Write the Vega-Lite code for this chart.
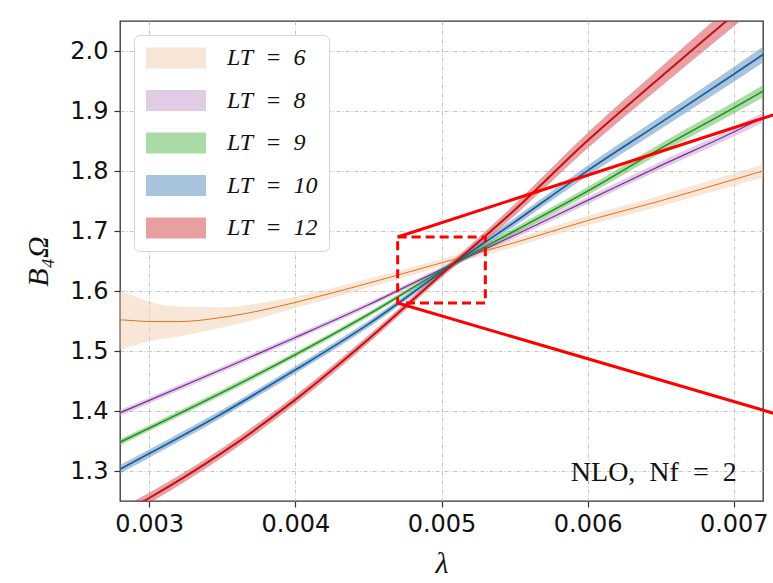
{
  "$schema": "https://vega.github.io/schema/vega-lite/v6.json",
  "width": 643,
  "height": 480,
  "autosize": {"type": "none"},
  "padding": {"left": 120, "top": 21, "right": 10, "bottom": 82},
  "background": "white",
  "config": {
    "view": {"stroke": "#333333", "strokeWidth": 1.3},
    "axis": {
      "labelFont": "DejaVu Sans",
      "labelFontSize": 24,
      "labelColor": "#111111",
      "labelFlush": false,
      "labelOverlap": false,
      "tickColor": "#333333",
      "tickWidth": 1.2,
      "tickSize": 6,
      "domain": false,
      "grid": true,
      "gridColor": "#c4c4c4",
      "gridDash": [4, 2, 1, 2],
      "gridWidth": 1,
      "titleFont": "Liberation Serif",
      "titleFontStyle": "italic",
      "titleFontWeight": "normal",
      "titleFontSize": 30,
      "titleColor": "#111111"
    }
  },
  "datasets": {
    "curves": [
      {"lt": "6", "x": 0.0028, "y": 1.552, "lo": 1.502, "hi": 1.600},
      {"lt": "6", "x": 0.0029, "y": 1.5505, "lo": 1.5095, "hi": 1.5915},
      {"lt": "6", "x": 0.003, "y": 1.549, "lo": 1.516, "hi": 1.582},
      {"lt": "6", "x": 0.0032, "y": 1.549, "lo": 1.524, "hi": 1.574},
      {"lt": "6", "x": 0.0035, "y": 1.556, "lo": 1.539, "hi": 1.573},
      {"lt": "6", "x": 0.0038, "y": 1.5695, "lo": 1.5575, "hi": 1.5815},
      {"lt": "6", "x": 0.004, "y": 1.581, "lo": 1.5715, "hi": 1.5905},
      {"lt": "6", "x": 0.0045, "y": 1.613, "lo": 1.6055, "hi": 1.6205},
      {"lt": "6", "x": 0.005, "y": 1.647, "lo": 1.6405, "hi": 1.6535},
      {"lt": "6", "x": 0.0055, "y": 1.6805, "lo": 1.6735, "hi": 1.6875},
      {"lt": "6", "x": 0.006, "y": 1.7175, "lo": 1.7095, "hi": 1.7255},
      {"lt": "6", "x": 0.0065, "y": 1.7503, "lo": 1.7413, "hi": 1.7593},
      {"lt": "6", "x": 0.007, "y": 1.7858, "lo": 1.7753, "hi": 1.7963},
      {"lt": "6", "x": 0.0072, "y": 1.800, "lo": 1.789, "hi": 1.811},

      {"lt": "8", "x": 0.0028, "y": 1.397, "lo": 1.392, "hi": 1.402},
      {"lt": "8", "x": 0.003, "y": 1.4176, "lo": 1.4127, "hi": 1.4225},
      {"lt": "8", "x": 0.0035, "y": 1.4695, "lo": 1.4648, "hi": 1.4742},
      {"lt": "8", "x": 0.004, "y": 1.5225, "lo": 1.518, "hi": 1.527},
      {"lt": "8", "x": 0.0045, "y": 1.577, "lo": 1.5728, "hi": 1.5812},
      {"lt": "8", "x": 0.005, "y": 1.636, "lo": 1.632, "hi": 1.640},
      {"lt": "8", "x": 0.0055, "y": 1.693, "lo": 1.6881, "hi": 1.6979},
      {"lt": "8", "x": 0.006, "y": 1.751, "lo": 1.7452, "hi": 1.7568},
      {"lt": "8", "x": 0.0065, "y": 1.809, "lo": 1.8023, "hi": 1.8157},
      {"lt": "8", "x": 0.007, "y": 1.865, "lo": 1.8574, "hi": 1.8726},
      {"lt": "8", "x": 0.0072, "y": 1.889, "lo": 1.881, "hi": 1.897},

      {"lt": "9", "x": 0.0028, "y": 1.348, "lo": 1.343, "hi": 1.353},
      {"lt": "9", "x": 0.003, "y": 1.3714, "lo": 1.3665, "hi": 1.3763},
      {"lt": "9", "x": 0.0035, "y": 1.431, "lo": 1.4263, "hi": 1.4357},
      {"lt": "9", "x": 0.004, "y": 1.494, "lo": 1.4895, "hi": 1.4985},
      {"lt": "9", "x": 0.0045, "y": 1.561, "lo": 1.5568, "hi": 1.5652},
      {"lt": "9", "x": 0.005, "y": 1.634, "lo": 1.630, "hi": 1.638},
      {"lt": "9", "x": 0.0055, "y": 1.700, "lo": 1.6946, "hi": 1.7054},
      {"lt": "9", "x": 0.006, "y": 1.7665, "lo": 1.7598, "hi": 1.7732},
      {"lt": "9", "x": 0.0065, "y": 1.8377, "lo": 1.8296, "hi": 1.8458},
      {"lt": "9", "x": 0.007, "y": 1.9053, "lo": 1.8958, "hi": 1.9148},
      {"lt": "9", "x": 0.0072, "y": 1.933, "lo": 1.923, "hi": 1.943},

      {"lt": "10", "x": 0.0028, "y": 1.303, "lo": 1.296, "hi": 1.310},
      {"lt": "10", "x": 0.003, "y": 1.329, "lo": 1.3222, "hi": 1.3358},
      {"lt": "10", "x": 0.0035, "y": 1.396, "lo": 1.3896, "hi": 1.4024},
      {"lt": "10", "x": 0.004, "y": 1.4686, "lo": 1.4627, "hi": 1.4745},
      {"lt": "10", "x": 0.0045, "y": 1.5448, "lo": 1.5393, "hi": 1.5503},
      {"lt": "10", "x": 0.005, "y": 1.6316, "lo": 1.6266, "hi": 1.6366},
      {"lt": "10", "x": 0.0055, "y": 1.7148, "lo": 1.708, "hi": 1.7216},
      {"lt": "10", "x": 0.006, "y": 1.8006, "lo": 1.792, "hi": 1.8092},
      {"lt": "10", "x": 0.0065, "y": 1.8806, "lo": 1.8701, "hi": 1.8911},
      {"lt": "10", "x": 0.007, "y": 1.9611, "lo": 1.9488, "hi": 1.9734},
      {"lt": "10", "x": 0.0072, "y": 1.994, "lo": 1.981, "hi": 2.007},

      {"lt": "12", "x": 0.0028, "y": 1.228, "lo": 1.219, "hi": 1.237},
      {"lt": "12", "x": 0.003, "y": 1.255, "lo": 1.2464, "hi": 1.2636},
      {"lt": "12", "x": 0.0035, "y": 1.3305, "lo": 1.3226, "hi": 1.3384},
      {"lt": "12", "x": 0.004, "y": 1.419, "lo": 1.4117, "hi": 1.4263},
      {"lt": "12", "x": 0.0045, "y": 1.5196, "lo": 1.513, "hi": 1.5262},
      {"lt": "12", "x": 0.005, "y": 1.628, "lo": 1.622, "hi": 1.634},
      {"lt": "12", "x": 0.0055, "y": 1.735, "lo": 1.7256, "hi": 1.7444},
      {"lt": "12", "x": 0.006, "y": 1.8508, "lo": 1.838, "hi": 1.8636},
      {"lt": "12", "x": 0.0065, "y": 1.9566, "lo": 1.9404, "hi": 1.9728},
      {"lt": "12", "x": 0.007, "y": 2.0604, "lo": 2.0408, "hi": 2.08},
      {"lt": "12", "x": 0.0072, "y": 2.102, "lo": 2.081, "hi": 2.123}
    ],
    "box": [{"x": 0.0047, "x2": 0.0053, "y": 1.58, "y2": 1.69}],
    "connectors": [
      {"x": 0.0047, "y": 1.69, "x2": 0.0075, "y2": 1.9117},
      {"x": 0.0047, "y": 1.58, "x2": 0.0075, "y2": 1.38}
    ],
    "note": [{"x": 0.00702, "y": 1.297, "label": "NLO,\u2002Nf\u2002=\u20022"}]
  },
  "layer": [
    {
      "data": {"name": "curves"},
      "mark": {"type": "area", "clip": true, "opacity": 0.5, "interpolate": "monotone"},
      "encoding": {
        "x": {
          "field": "x", "type": "quantitative",
          "scale": {"domain": [0.0028, 0.0072], "nice": false, "zero": false},
          "axis": {"values": [0.003, 0.004, 0.005, 0.006, 0.007], "format": ".3f", "title": "λ", "labelPadding": 5, "titlePadding": 12}
        },
        "y": {
          "field": "lo", "type": "quantitative",
          "scale": {"domain": [1.25, 2.05], "nice": false, "zero": false},
          "axis": {"values": [1.3, 1.4, 1.5, 1.6, 1.7, 1.8, 1.9, 2.0], "format": ".1f", "title": "B₄Ω", "labelPadding": 6, "titlePadding": 16}
        },
        "y2": {"field": "hi"},
        "fill": {
          "field": "lt", "type": "nominal",
          "scale": {"domain": ["6", "8", "9", "10", "12"], "range": ["#f1cdad", "#c59bcd", "#59b94d", "#518bbb", "#d14145"]},
          "legend": {
            "title": null,
            "orient": "none",
            "legendX": 14,
            "legendY": 14,
            "fillColor": "white",
            "strokeColor": "#d4d4d4",
            "cornerRadius": 6,
            "padding": 11,
            "symbolType": "M-2.727,-0.955H2.727V0.955H-2.727Z",
            "symbolSize": 484,
            "symbolOffset": 19,
            "symbolOpacity": 0.5,
            "symbolStrokeWidth": 0,
            "symbolStrokeColor": "transparent",
            "labelFont": "Liberation Serif",
            "labelFontStyle": "italic",
            "labelFontSize": 24,
            "labelColor": "#111111",
            "labelOffset": 39,
            "rowPadding": 18.5,
            "labelExpr": "'LT\u2002=\u2002' + datum.label + '\u2003'",
            "encode": {
              "symbols": {
                "enter": {"strokeOpacity": {"value": 0}, "strokeWidth": {"value": 0}},
                "update": {"stroke": {"value": "transparent"}, "strokeOpacity": {"value": 0}, "strokeWidth": {"value": 0}}
              }
            }
          }
        }
      }
    },
    {
      "data": {"name": "curves"},
      "mark": {"type": "line", "clip": true, "interpolate": "monotone"},
      "encoding": {
        "x": {"field": "x", "type": "quantitative", "scale": {"domain": [0.0028, 0.0072], "nice": false, "zero": false}},
        "y": {"field": "y", "type": "quantitative", "scale": {"domain": [1.25, 2.05], "nice": false, "zero": false}},
        "stroke": {
          "field": "lt", "type": "nominal",
          "scale": {"domain": ["6", "8", "9", "10", "12"], "range": ["#e8711a", "#7b2d9e", "#1e8c1e", "#1c5b9c", "#c40f14"]},
          "legend": null
        },
        "strokeWidth": {
          "field": "lt", "type": "ordinal",
          "scale": {"domain": ["6", "8", "9", "10", "12"], "range": [1, 2, 2.6, 2.6, 2]},
          "legend": null
        }
      }
    },
    {
      "data": {"name": "connectors"},
      "mark": {"type": "rule", "clip": false, "stroke": "#ff0000", "strokeWidth": 3},
      "encoding": {
        "x": {"field": "x", "type": "quantitative", "scale": {"domain": [0.0028, 0.0072], "nice": false, "zero": false}},
        "y": {"field": "y", "type": "quantitative", "scale": {"domain": [1.25, 2.05], "nice": false, "zero": false}},
        "x2": {"field": "x2"},
        "y2": {"field": "y2"}
      }
    },
    {
      "data": {"name": "box"},
      "mark": {"type": "rect", "filled": false, "stroke": "#ff0000", "strokeWidth": 3, "strokeDash": [9, 5]},
      "encoding": {
        "x": {"field": "x", "type": "quantitative", "scale": {"domain": [0.0028, 0.0072], "nice": false, "zero": false}},
        "x2": {"field": "x2"},
        "y": {"field": "y", "type": "quantitative", "scale": {"domain": [1.25, 2.05], "nice": false, "zero": false}},
        "y2": {"field": "y2"}
      }
    },
    {
      "data": {"name": "note"},
      "mark": {"type": "text", "align": "right", "baseline": "middle", "font": "Liberation Serif", "fontSize": 28, "color": "#111111"},
      "encoding": {
        "x": {"field": "x", "type": "quantitative", "scale": {"domain": [0.0028, 0.0072], "nice": false, "zero": false}},
        "y": {"field": "y", "type": "quantitative", "scale": {"domain": [1.25, 2.05], "nice": false, "zero": false}},
        "text": {"field": "label"}
      }
    }
  ]
}
